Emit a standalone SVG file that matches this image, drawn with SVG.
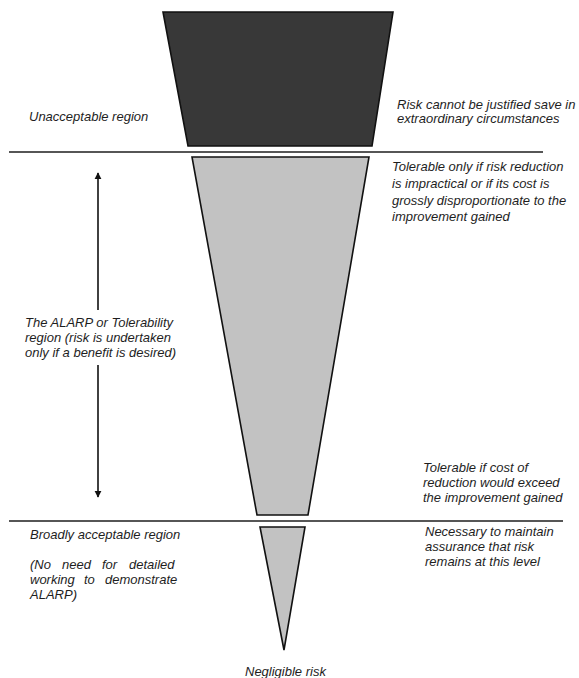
<svg xmlns="http://www.w3.org/2000/svg" width="579" height="678" viewBox="0 0 579 678">
<style>
text{font-family:"Liberation Sans",Arial,sans-serif;font-style:italic;font-size:13px;fill:#1e1e1e}
.sep{stroke:#1e1e1e;stroke-width:1.6}
.shape{stroke:#111;stroke-width:1.6;stroke-linejoin:miter}
.dark{fill:#383838}
.light{fill:#c2c2c2}
.conn{stroke:#111;stroke-width:1.6;fill:none}
</style>
<defs>
<marker id="ah" viewBox="0 0 10 10" refX="9" refY="5" markerWidth="4.5" markerHeight="4.5" orient="auto-start-reverse" markerUnits="strokeWidth">
<path d="M0,0 L10,5 L0,10 z" fill="#111"/>
</marker>
</defs>
<rect width="579" height="678" fill="#fff"/>
<g id="separators">
<line class="sep" x1="9" y1="152" x2="543" y2="152"/>
<line class="sep" x1="9" y1="521" x2="563" y2="521"/>
</g>
<g id="unacceptable">
<polygon class="shape dark" points="163,12 393,12 372,146 188,146"/>
<text x="29" y="121">Unacceptable region</text>
<text x="397" y="109">Risk cannot be justified save in</text>
<text x="397" y="123">extraordinary circumstances</text>
</g>
<g id="tolerable">
<polygon class="shape light" points="192,157 369,157 308,515 257,515"/>
<text x="392" y="171">Tolerable only if risk reduction</text>
<text x="392" y="188">is impractical or if its cost is</text>
<text x="392" y="205">grossly disproportionate to the</text>
<text x="392" y="221">improvement gained</text>
<text x="423" y="472">Tolerable if cost of</text>
<text x="423" y="487">reduction would exceed</text>
<text x="423" y="502">the improvement gained</text>
</g>
<g id="alarp-label">
<text x="25" y="327">The ALARP or Tolerability</text>
<text x="25" y="342">region (risk is undertaken</text>
<text x="25" y="357">only if a benefit is desired)</text>
</g>
<g id="broadly">
<polygon class="shape light" points="260,527 305,527 284,650"/>
<text x="30" y="539">Broadly acceptable region</text>
<text y="569"><tspan x="30">(No</tspan><tspan x="62">need</tspan><tspan x="102">for</tspan><tspan x="129">detailed</tspan></text>
<text y="584"><tspan x="30">working</tspan><tspan x="84">to</tspan><tspan x="105">demonstrate</tspan></text>
<text x="30" y="599">ALARP)</text>
<text x="425" y="536">Necessary to maintain</text>
<text x="425" y="551">assurance that risk</text>
<text x="425" y="566">remains at this level</text>
</g>
<g id="negligible">
<text x="245" y="676">Negligible risk</text>
</g>
<g id="connectors">
<line class="conn" x1="98" y1="310" x2="98" y2="173" marker-end="url(#ah)"/>
<line class="conn" x1="98" y1="365" x2="98" y2="497" marker-end="url(#ah)"/>
</g>
</svg>
